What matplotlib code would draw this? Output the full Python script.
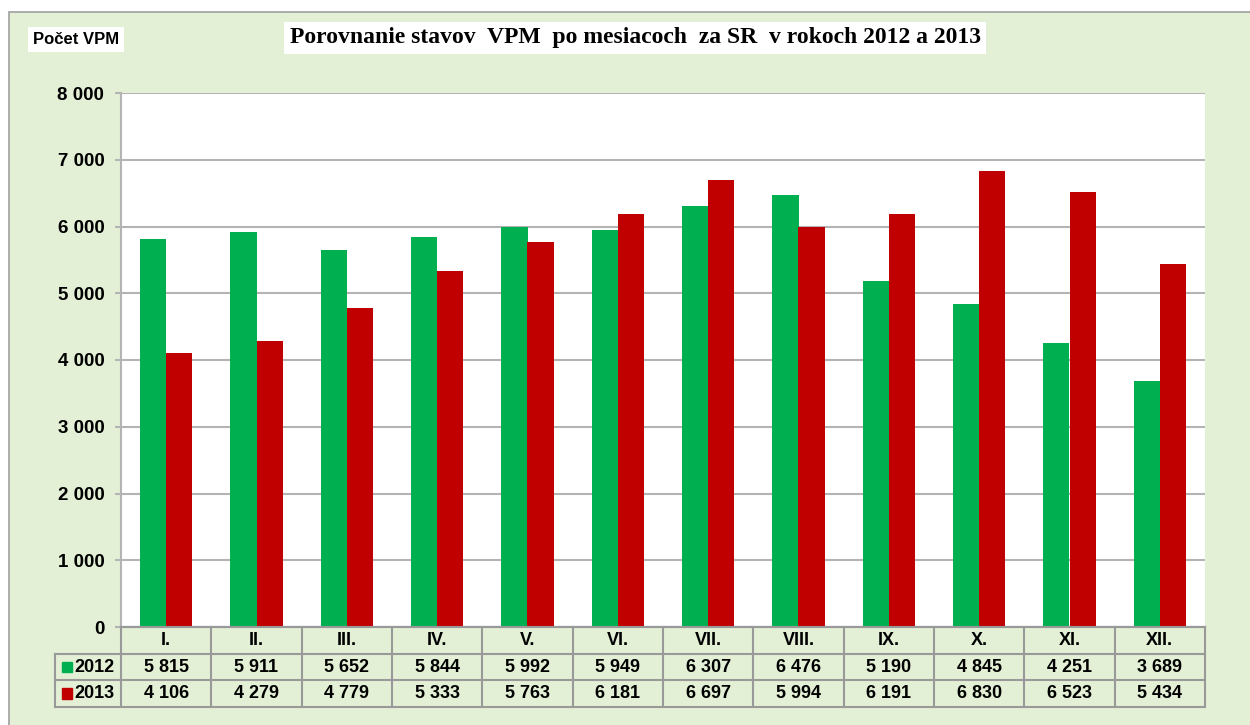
import numpy as np
import matplotlib
matplotlib.use("Agg")
from matplotlib import pyplot as plt
from matplotlib.patches import Rectangle

months = ["I.", "II.", "III.", "IV.", "V.", "VI.", "VII.", "VIII.", "IX.", "X.", "XI.", "XII."]
years = ["2012", "2013"]
vals2012 = [5815, 5911, 5652, 5844, 5992, 5949, 6307, 6476, 5190, 4845, 4251, 3689]
vals2013 = [4106, 4279, 4779, 5333, 5763, 6181, 6697, 5994, 6191, 6830, 6523, 5434]
colors = ["#00b050", "#c00000"]
yticks = [0, 1000, 2000, 3000, 4000, 5000, 6000, 7000, 8000]

bg = "#e3f0d5"
grid = "#b4b4b4"
W, H = 1250, 725


def fmt(v):
    return f"{v:,}".replace(",", " ")


def px(x0, y0, x1, y1):
    # pixel box -> figure fraction [left, bottom, width, height]
    return [x0 / W, 1 - y1 / H, (x1 - x0) / W, (y1 - y0) / H]


plt.rcParams['font.family'] = ['Liberation Sans', 'DejaVu Sans']
fig = plt.figure(figsize=(12.5, 7.25), dpi=100)
fig.patch.set_facecolor("white")
fig.patches.append(Rectangle((9 / W, -0.1), 1.2, 1 - 12 / H + 0.1, transform=fig.transFigure,
                             facecolor=bg, edgecolor="#a0a0a0", lw=1.2, zorder=-10))

# main plot
ax = fig.add_axes(px(121, 93, 1205, 627))
x = np.arange(len(months))
w = 0.29
ax.bar(x - w / 2, vals2012, w, color=colors[0], zorder=3)
ax.bar(x + w / 2, vals2013, w, color=colors[1], zorder=3)
ax.set_xlim(-0.5, len(months) - 0.5)
ax.set_ylim(0, 8000)
ax.set_yticks(yticks)
ax.set_yticklabels([fmt(v) for v in yticks], fontsize=13.5, fontweight="bold")
ax.set_xticks([])
ax.yaxis.grid(True, color=grid, lw=1.5, zorder=0)
for s in ["top", "right"]:
    ax.spines[s].set_visible(False)
for s in ["left", "bottom"]:
    ax.spines[s].set_color(grid)
    ax.spines[s].set_linewidth(1.5)
ax.tick_params(axis="y", length=4.5, color=grid, width=1.5, pad=7.5)
ax.set_facecolor("white")

# data table
tb = fig.add_axes(px(121, 627, 1205, 707))
tb.set_xlim(-0.5, len(months) - 0.5)
tb.set_ylim(0, 3)
tb.axis("off")
lab_l = -0.5 - 66 / 90.33
lk = dict(color="#999999", lw=1.5, clip_on=False)
tb.plot([-0.5, 11.5], [3, 3], **lk)
for yy in [2, 1, 0]:
    tb.plot([lab_l, 11.5], [yy, yy], **lk)
tb.plot([lab_l, lab_l], [0, 2], **lk)
for k in range(len(months) + 1):
    tb.plot([k - 0.5, k - 0.5], [0, 3], **lk)
tk = dict(fontsize=13, fontweight="bold", ha="center", va="center")
for i, m in enumerate(months):
    tb.text(i, 2.5, m, **tk)
    tb.text(i, 1.5, fmt(vals2012[i]), **tk)
    tb.text(i, 0.5, fmt(vals2013[i]), **tk)
for r, (yr, c) in enumerate(zip(years, colors)):
    yc = 1.5 - r
    tb.add_patch(Rectangle((lab_l + 0.075, yc - 0.2), 0.11, 0.4, color=c, clip_on=False))
    tb.text(lab_l + 0.22, yc, yr, fontsize=13, fontweight="bold", ha="left", va="center")

# titles
fig.text(635 / W, 1 - 38 / H, "Porovnanie stavov  VPM  po mesiacoch  za SR  v rokoch 2012 a 2013",
         family=["Liberation Serif", "DejaVu Serif"], fontsize=17, fontweight="bold",
         ha="center", va="center",
         bbox=dict(facecolor="white", edgecolor="none", boxstyle="square,pad=0.25"))
fig.text(76 / W, 1 - 39.5 / H, "Počet VPM", fontsize=12, fontweight="bold", ha="center", va="center",
         bbox=dict(facecolor="white", edgecolor="none", boxstyle="square,pad=0.3"))

fig.savefig("out.png", dpi=100, facecolor=fig.get_facecolor())
